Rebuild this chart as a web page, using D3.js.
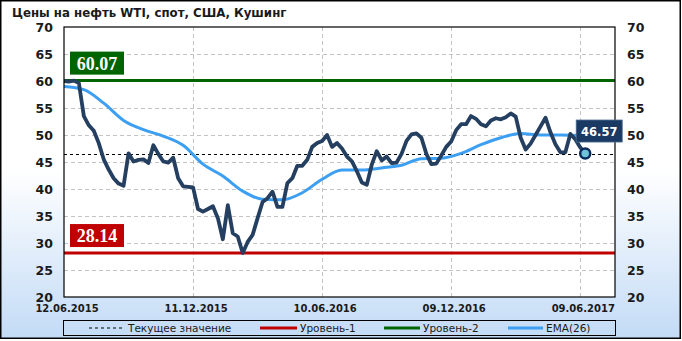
<!DOCTYPE html>
<html lang="ru">
<head>
<meta charset="UTF-8">
<title>Цены на нефть WTI</title>
<script src="https://d3js.org/d3.v7.min.js"></script>
<style>
  body { margin: 0; background: #fff; }
  svg { display: block; }
</style>
</head>
<body>
<div id="chart"></div>
<script>
// weekly WTI spot price, Cushing
var startDate = "12.06.2015";
var endDate = "28.07.2017";
var prices = [
  60.0, 59.9, 60.07, 59.6, 53.5, 51.8, 50.8, 48.5, 45.5, 43.6,
  42.0, 41.0, 40.6, 46.6, 45.1, 45.4, 45.5, 44.8, 48.1, 46.5,
  45.1, 44.9, 45.8, 42.0, 40.5, 40.4, 40.3, 36.3, 35.8, 36.3,
  36.8, 34.6, 30.7, 37.0, 31.8, 31.2, 28.14, 30.2, 31.5, 34.6,
  37.6, 38.3, 39.5, 36.7, 36.7, 41.1, 42.0, 44.3, 44.3, 45.4,
  47.8, 48.5, 48.9, 50.0, 47.8, 48.5, 47.5, 46.0, 45.1, 43.3,
  41.2, 40.8, 44.5, 47.0, 45.3, 46.0, 44.8, 44.9, 46.5, 48.9,
  50.1, 50.3, 49.5, 46.5, 44.6, 44.7, 46.2, 47.8, 48.8, 50.9,
  52.0, 52.0, 53.5, 53.0, 52.0, 51.6, 52.7, 53.1, 52.9, 53.3,
  54.0, 53.4, 49.5, 47.3, 48.4, 50.0, 51.6, 53.2, 50.5, 48.3,
  46.8, 46.8, 50.2, 49.2, 47.7, 46.57
];
// EMA(26), read every 4th week
var emaWeeks = [0, 4, 8, 12, 16, 20, 24, 28, 32, 36, 40, 44, 48, 52, 56, 60, 64, 68, 72, 76, 80, 84, 88, 92, 96, 100, 104, 105];
var emaValues = [59.0, 58.4, 55.9, 52.7, 51.0, 49.8, 48.1, 44.6, 42.4, 39.6, 38.1, 38.0, 39.3, 41.8, 43.5, 43.5, 43.9, 44.4, 45.6, 45.7, 46.6, 48.2, 49.5, 50.3, 50.0, 50.0, 49.9, 49.8];

var level1 = 28.14;
var level2 = 60.07;
var current = 46.57;

var tickDates = ["12.06.2015", "11.12.2015", "10.06.2016", "09.12.2016", "09.06.2017"];
var yTicks = [20, 25, 30, 35, 40, 45, 50, 55, 60, 65, 70];

var legendLabels = ["Текущее значение", "Уровень-1", "Уровень-2", "EMA(26)"];

var parse = d3.timeParse("%d.%m.%Y");
var fmt = d3.timeFormat("%d.%m.%Y");
var t0 = parse(startDate);
var weekDate = function(i) { return d3.timeDay.offset(t0, 7 * i); };

var W = 682, H = 341;
var pLeft = 64, pRight = 615, pTop = 27, pBottom = 297;

var svg = d3.select("#chart").append("svg")
  .attr("width", W).attr("height", H)
  .style("font-family", "'DejaVu Sans', Verdana, sans-serif");

var defs = svg.append("defs");
var grad = defs.append("linearGradient").attr("id", "bg")
  .attr("x1", 0).attr("y1", 0).attr("x2", 0).attr("y2", 1);
grad.append("stop").attr("offset", "0%").attr("stop-color", "#ffffff");
grad.append("stop").attr("offset", "50%").attr("stop-color", "#ffffff");
grad.append("stop").attr("offset", "100%").attr("stop-color", "#c3dbf6");

svg.append("rect")
  .attr("x", 0.75).attr("y", 0.75).attr("width", 679.5).attr("height", 337.5)
  .attr("fill", "url(#bg)").attr("stroke", "#000").attr("stroke-width", 1.5);

svg.append("text")
  .attr("x", 12).attr("y", 17)
  .attr("font-size", "11.8px").attr("font-weight", "bold").attr("fill", "#1a1a1a")
  .text("Цены на нефть WTI, спот, США, Кушинг");

var x = d3.scaleTime().domain([t0, parse(endDate)]).range([pLeft, pRight]);
var y = d3.scaleLinear().domain([20, 70]).range([pBottom, pTop]);

// plot background
svg.append("rect")
  .attr("x", pLeft).attr("y", pTop).attr("width", pRight - pLeft).attr("height", pBottom - pTop)
  .attr("fill", "#fff");

// grid
var grid = svg.append("g").attr("stroke", "#c4c4c4").attr("stroke-dasharray", "4,3").attr("stroke-width", 1);
grid.selectAll(".hg").data(yTicks.slice(1, -1)).enter().append("line")
  .attr("x1", pLeft).attr("x2", pRight)
  .attr("y1", function(d) { return Math.round(y(d)) + 0.5; })
  .attr("y2", function(d) { return Math.round(y(d)) + 0.5; });
grid.selectAll(".vg").data(tickDates.slice(1)).enter().append("line")
  .attr("y1", pTop).attr("y2", pBottom)
  .attr("x1", function(d) { return Math.round(x(parse(d))) + 0.5; })
  .attr("x2", function(d) { return Math.round(x(parse(d))) + 0.5; });

// axes
var yl = svg.append("g").attr("transform", "translate(" + pLeft + ",0)")
  .call(d3.axisLeft(y).tickValues(yTicks).tickSize(0).tickPadding(11));
var yr = svg.append("g").attr("transform", "translate(" + pRight + ",0)")
  .call(d3.axisRight(y).tickValues(yTicks).tickSize(0).tickPadding(12));
var xa = svg.append("g").attr("transform", "translate(0," + pBottom + ")")
  .call(d3.axisBottom(x).tickValues(tickDates.map(parse)).tickFormat(fmt).tickSize(0).tickPadding(8));
[yl, yr, xa].forEach(function(g) {
  g.select(".domain").remove();
  g.selectAll("text").attr("font-family", "'DejaVu Sans', Verdana, sans-serif")
    .attr("font-weight", "bold").attr("fill", "#1a1a1a");
});
yl.selectAll("text").attr("font-size", "12.5px");
yr.selectAll("text").attr("font-size", "12.5px");
xa.selectAll("text").attr("font-size", "10px").attr("dx", 2.5);

// levels
svg.append("line").attr("x1", pLeft).attr("x2", pRight)
  .attr("y1", y(level2)).attr("y2", y(level2))
  .attr("stroke", "#006400").attr("stroke-width", 3);
svg.append("line").attr("x1", pLeft).attr("x2", pRight)
  .attr("y1", y(level1)).attr("y2", y(level1))
  .attr("stroke", "#c00000").attr("stroke-width", 3);
svg.append("line").attr("x1", pLeft).attr("x2", pRight)
  .attr("y1", Math.round(y(current)) + 0.5).attr("y2", Math.round(y(current)) + 0.5)
  .attr("stroke", "#000").attr("stroke-width", 1).attr("stroke-dasharray", "3,3");

// EMA
var emaLine = d3.line()
  .x(function(d, i) { return x(weekDate(emaWeeks[i])); })
  .y(function(d) { return y(d); })
  .curve(d3.curveMonotoneX);
svg.append("path").datum(emaValues)
  .attr("d", emaLine).attr("fill", "none")
  .attr("stroke", "#3d9ff2").attr("stroke-width", 3);

// price
var priceLine = d3.line()
  .x(function(d, i) { return x(weekDate(i)); })
  .y(function(d) { return y(d); });
svg.append("path").datum(prices)
  .attr("d", priceLine).attr("fill", "none")
  .attr("stroke", "#243f60").attr("stroke-width", 3.8).attr("stroke-linejoin", "round");

// frame
svg.append("rect")
  .attr("x", pLeft).attr("y", pTop).attr("width", pRight - pLeft).attr("height", pBottom - pTop)
  .attr("fill", "none").attr("stroke", "#000").attr("stroke-width", 1.2);

// level labels
function levelLabel(v, color) {
  var yy = y(v);
  svg.append("rect").attr("x", 70).attr("y", yy - 29).attr("width", 54).attr("height", 23).attr("fill", color);
  svg.append("text").attr("x", 97).attr("y", yy - 11)
    .attr("text-anchor", "middle").attr("fill", "#fff")
    .attr("font-family", "'Liberation Serif', 'Times New Roman', serif")
    .attr("font-weight", "bold").attr("font-size", "18px")
    .text(v.toFixed(2));
}
levelLabel(level2, "#006400");
levelLabel(level1, "#c00000");

// last value marker + label
var lx = x(weekDate(prices.length - 1)), ly = y(current);
svg.append("circle").attr("cx", lx).attr("cy", ly).attr("r", 5)
  .attr("fill", "#6ec3d8").attr("stroke", "#0b2a5c").attr("stroke-width", 2.5);
svg.append("rect").attr("x", lx - 9).attr("y", ly - 33.5).attr("width", 46).attr("height", 22)
  .attr("fill", "#1b3a63").attr("stroke", "#4a6a90").attr("stroke-width", 0.8);
svg.append("text").attr("x", lx + 14).attr("y", ly - 18)
  .attr("text-anchor", "middle").attr("fill", "#fff")
  .attr("font-weight", "bold").attr("font-size", "11.5px")
  .text(current.toFixed(2));

// legend
var lg = svg.append("g");
lg.append("rect").attr("x", 63.5).attr("y", 320.5).attr("width", 552).attr("height", 15)
  .attr("fill", "none").attr("stroke", "#000").attr("stroke-width", 1);
var legendItems = [
  { x1: 89, x2: 123, color: "#000", width: 1, dash: "3,3", tx: 128 },
  { x1: 260, x2: 297, color: "#c00000", width: 3, dash: null, tx: 300 },
  { x1: 384, x2: 420, color: "#006400", width: 3, dash: null, tx: 423 },
  { x1: 508, x2: 543, color: "#3d9ff2", width: 3, dash: null, tx: 546 }
];
legendItems.forEach(function(it, i) {
  lg.append("line").attr("x1", it.x1).attr("x2", it.x2).attr("y1", 328).attr("y2", 328)
    .attr("stroke", it.color).attr("stroke-width", it.width)
    .attr("stroke-dasharray", it.dash);
  lg.append("text").attr("x", it.tx).attr("y", 332)
    .attr("font-size", "10.5px").attr("fill", "#1a1a1a")
    .text(legendLabels[i]);
});
</script>
</body>
</html>
